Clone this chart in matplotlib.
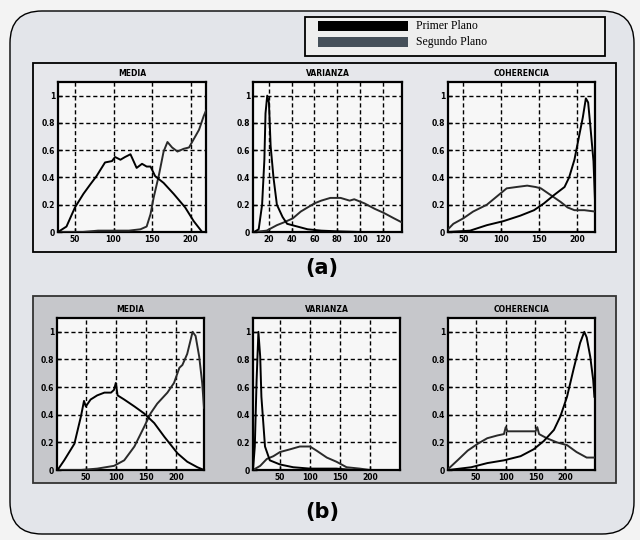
import matplotlib
matplotlib.use("Agg")
import matplotlib.pyplot as plt
from matplotlib.patches import FancyBboxPatch, Rectangle

# ---------------- data ----------------
series_names = ["Primer Plano", "Segundo Plano"]
titles = ["MEDIA", "VARIANZA", "COHERENCIA"]

a_media_fg_x = [28, 39, 50, 61, 70, 78, 89, 98, 102, 109, 115, 122, 130, 137, 143, 148, 154, 165, 178, 193, 204, 215, 220]
a_media_fg_y = [0.0, 0.04, 0.18, 0.28, 0.35, 0.41, 0.51, 0.52, 0.55, 0.53, 0.55, 0.57, 0.47, 0.50, 0.48, 0.48, 0.41, 0.36, 0.28, 0.18, 0.08, 0.0, 0.0]
a_media_bg_x = [28, 60, 80, 100, 120, 135, 143, 148, 152, 159, 165, 170, 176, 183, 191, 198, 204, 211, 217, 220]
a_media_bg_y = [0.0, 0.0, 0.01, 0.01, 0.01, 0.02, 0.04, 0.13, 0.25, 0.42, 0.59, 0.66, 0.62, 0.59, 0.61, 0.62, 0.68, 0.75, 0.85, 0.89]

a_var_fg_x = [7, 11, 14, 16, 17, 18.5, 20, 21.5, 24, 27, 32, 36, 45, 54, 66, 80, 100, 137]
a_var_fg_y = [0.0, 0.02, 0.2, 0.53, 0.87, 1.0, 0.95, 0.63, 0.4, 0.2, 0.11, 0.06, 0.04, 0.02, 0.01, 0.005, 0.0, 0.0]
a_var_bg_x = [7, 18, 27, 33, 41, 48, 54, 60, 66, 74, 83, 91, 95, 104, 113, 121, 130, 137]
a_var_bg_y = [0.0, 0.01, 0.05, 0.07, 0.10, 0.15, 0.18, 0.21, 0.23, 0.25, 0.25, 0.23, 0.24, 0.21, 0.17, 0.14, 0.10, 0.07]

a_coh_fg_x = [30, 59, 81, 103, 125, 143, 156, 169, 183, 189, 196, 202, 207, 211, 214, 217, 221, 223]
a_coh_fg_y = [0.0, 0.01, 0.05, 0.08, 0.12, 0.16, 0.21, 0.27, 0.33, 0.40, 0.53, 0.70, 0.84, 0.98, 0.95, 0.77, 0.52, 0.23]
a_coh_bg_x = [30, 37, 50, 63, 81, 94, 107, 120, 134, 145, 152, 165, 178, 187, 196, 209, 223]
a_coh_bg_y = [0.02, 0.06, 0.10, 0.15, 0.20, 0.26, 0.32, 0.33, 0.34, 0.33, 0.32, 0.27, 0.22, 0.18, 0.16, 0.16, 0.15]

b_media_fg_x = [3, 14, 31, 42, 47, 50, 58, 69, 81, 92, 97, 100, 103, 114, 131, 147, 164, 181, 203, 219, 236, 247]
b_media_fg_y = [0.0, 0.07, 0.19, 0.39, 0.50, 0.46, 0.51, 0.54, 0.56, 0.56, 0.58, 0.63, 0.54, 0.51, 0.46, 0.41, 0.34, 0.24, 0.12, 0.06, 0.02, 0.0]
b_media_bg_x = [3, 42, 69, 97, 114, 131, 147, 158, 169, 186, 197, 206, 211, 219, 228, 233, 239, 244, 247]
b_media_bg_y = [0.0, 0.0, 0.01, 0.03, 0.07, 0.17, 0.31, 0.41, 0.48, 0.56, 0.63, 0.74, 0.76, 0.84, 1.0, 0.97, 0.82, 0.63, 0.45]

b_var_fg_x = [5, 8, 11, 14, 17, 19, 25, 33, 50, 72, 100, 144, 172, 250]
b_var_fg_y = [0.0, 0.17, 0.65, 1.0, 0.82, 0.53, 0.17, 0.07, 0.04, 0.02, 0.01, 0.01, 0.0, 0.0]
b_var_bg_x = [5, 17, 28, 39, 50, 67, 83, 100, 111, 128, 144, 161, 183, 200, 250]
b_var_bg_y = [0.0, 0.03, 0.08, 0.10, 0.13, 0.15, 0.17, 0.17, 0.14, 0.09, 0.06, 0.02, 0.01, 0.0, 0.0]

b_coh_fg_x = [4, 42, 69, 97, 125, 147, 164, 181, 192, 203, 214, 225, 232, 236, 242, 247, 249]
b_coh_fg_y = [0.0, 0.02, 0.05, 0.07, 0.10, 0.15, 0.21, 0.29, 0.39, 0.53, 0.73, 0.92, 1.0, 0.96, 0.82, 0.65, 0.53]
b_coh_bg_x = [4, 19, 36, 53, 69, 86, 97, 100, 103, 119, 136, 150, 153, 156, 169, 186, 203, 219, 236, 249]
b_coh_bg_y = [0.01, 0.07, 0.14, 0.19, 0.23, 0.25, 0.26, 0.31, 0.28, 0.28, 0.28, 0.28, 0.31, 0.26, 0.23, 0.20, 0.18, 0.13, 0.09, 0.09]

a_xlims = [(28, 220), (6, 137), (30, 223)]
b_xlims = [(2, 247), (5, 250), (3, 250)]
a_xticks = [[50, 100, 150, 200], [20, 40, 60, 80, 100, 120], [50, 100, 150, 200]]
b_xticks = [[50, 100, 150, 200], [50, 100, 150, 200], [50, 100, 150, 200]]
y_ticks = [0, 0.2, 0.4, 0.6, 0.8, 1]
y_ticklabels = ["0", "0.2", "0.4", "0.6", "0.8", "1"]

# ---------------- layout ----------------
W, H = 640, 540
fig = plt.figure(figsize=(W / 100, H / 100), dpi=100, facecolor="#f3f3f3")

bg = fig.add_axes([0, 0, 1, 1], zorder=0)
bg.set_xlim(0, W)
bg.set_ylim(H, 0)
bg.axis("off")

# outer rounded frame
bg.add_patch(FancyBboxPatch((10, 11), 624, 523, boxstyle="round,pad=0,rounding_size=32",
                            facecolor="#e3e5ea", edgecolor="black", linewidth=1.0))
# legend box
bg.add_patch(Rectangle((305, 17), 300, 39, facecolor="#eeeeee", edgecolor="black", linewidth=1.3))
bg.add_patch(Rectangle((318, 21), 90, 10, facecolor="black", edgecolor="none"))
bg.add_patch(Rectangle((318, 37), 90, 10, facecolor="#46505a", edgecolor="none"))
bg.text(416, 26, series_names[0], family=["Liberation Serif", "DejaVu Serif"], fontsize=8.5,
        va="center", ha="left")
bg.text(416, 42, series_names[1], family=["Liberation Serif", "DejaVu Serif"], fontsize=8.5,
        va="center", ha="left")
# panel (a)
bg.add_patch(Rectangle((33, 63), 583, 189, facecolor="#e6e7eb", edgecolor="black", linewidth=1.3))
# panel (b)
bg.add_patch(Rectangle((33, 296), 583, 187, facecolor="#c6c7cb", edgecolor="#333333", linewidth=1.3))
bg.text(322, 268, "(a)", fontsize=15, fontweight="bold", ha="center", va="center")
bg.text(322, 512, "(b)", fontsize=15, fontweight="bold", ha="center", va="center")


def px_rect(left, right, top, bottom):
    return [left / W, 1 - bottom / H, (right - left) / W, (bottom - top) / H]


a_boxes = [(58, 206), (253, 402), (448, 595)]
b_boxes = [(57, 204), (253, 400), (448, 595)]
a_top, a_bot = 82, 232
b_top, b_bot = 318, 470

a_data = [(a_media_fg_x, a_media_fg_y, a_media_bg_x, a_media_bg_y),
          (a_var_fg_x, a_var_fg_y, a_var_bg_x, a_var_bg_y),
          (a_coh_fg_x, a_coh_fg_y, a_coh_bg_x, a_coh_bg_y)]
b_data = [(b_media_fg_x, b_media_fg_y, b_media_bg_x, b_media_bg_y),
          (b_var_fg_x, b_var_fg_y, b_var_bg_x, b_var_bg_y),
          (b_coh_fg_x, b_coh_fg_y, b_coh_bg_x, b_coh_bg_y)]


def make_axes(box, top, bot, data, xlim, xticks, title):
    ax = fig.add_axes(px_rect(box[0], box[1], top, bot), zorder=2)
    ax.set_facecolor("#f7f7f7")
    fx, fy, gx, gy = data
    ax.plot(gx, gy, color="#2a2a2a", linewidth=1.4, zorder=3)
    ax.plot(fx, fy, color="black", linewidth=1.4, zorder=4)
    ax.set_xlim(*xlim)
    ax.set_ylim(0, 1.1)
    ax.set_xticks(xticks)
    ax.set_xticklabels([str(t) for t in xticks])
    ax.set_yticks(y_ticks)
    ax.set_yticklabels(y_ticklabels)
    ax.tick_params(direction="in", length=3, width=1, labelsize=5.5, pad=2)
    for lab in ax.get_xticklabels() + ax.get_yticklabels():
        lab.set_fontweight("bold")
    ax.grid(True, color="black", linestyle=(0, (3, 2)), linewidth=1.0)
    for s in ax.spines.values():
        s.set_linewidth(1.6)
    ax.set_title(title, fontsize=5.5, fontweight="bold", pad=4)
    return ax


for i in range(3):
    make_axes(a_boxes[i], a_top, a_bot, a_data[i], a_xlims[i], a_xticks[i], titles[i])
    make_axes(b_boxes[i], b_top, b_bot, b_data[i], b_xlims[i], b_xticks[i], titles[i])

fig.savefig("out.png", dpi=100, facecolor=fig.get_facecolor())
